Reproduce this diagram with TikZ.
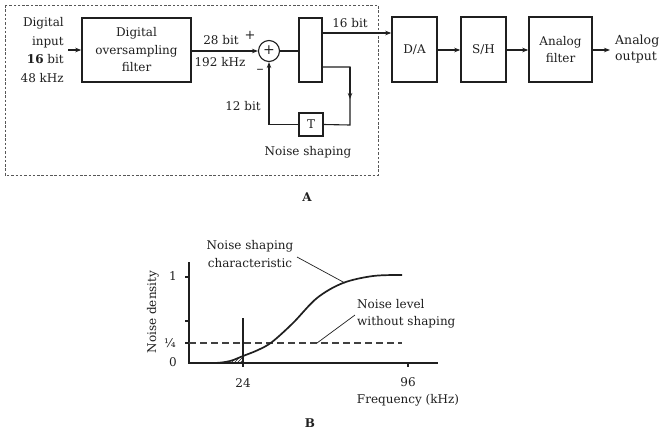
\documentclass[tikz,border=0pt]{standalone}
\usepackage{fontspec}
\setmainfont{DejaVu Serif}
\usetikzlibrary{arrows.meta,patterns}
\definecolor{ink}{gray}{0.12}
\begin{document}
\begin{tikzpicture}[x=1pt,y=-1pt,
  blk/.style={draw=ink,line width=1.5pt,inner sep=0pt,font=\fontsize{12}{17.5}\selectfont,align=center,text=ink},
  lbl/.style={font=\fontsize{12}{17.5}\selectfont,inner sep=0pt,align=center,text=ink},
  conn/.style={draw=ink,line width=1.1pt},
  arr/.style={conn,-{Stealth[length=6pt,width=4.5pt]}},
  thin/.style={draw=ink,line width=0.7pt},
]
\useasboundingbox (0,0) rectangle (668,432);

% ---------- Part A ----------
\draw[draw=ink!75,line width=1pt,dash pattern=on 2.5pt off 1.8pt] (5,5) rectangle (378,175);

\node[lbl,align=right,anchor=east,font=\fontsize{12}{18.5}\selectfont] (in) at (64,50) {Digital\\input\\\textbf{16} bit\\48 kHz};
\node[blk,minimum width=109pt,minimum height=64pt] (dof) at (136.5,50) {Digital\\oversampling\\filter};
\node[draw=ink,line width=1.1pt,circle,minimum size=21pt,inner sep=0pt] (sum) at (269,51) {};
\node[lbl,font=\fontsize{14}{14}\selectfont] (plus) at (269,50.5) {+};
\node[blk,minimum width=23pt,minimum height=64pt] (q) at (310.5,50) {};
\node[blk,minimum width=24pt,minimum height=23pt] (T) at (311,124.5) {T};
\node[blk,minimum width=45pt,minimum height=65pt] (da) at (414.5,49.5) {D/A};
\node[blk,minimum width=45pt,minimum height=65pt] (sh) at (483.5,49.5) {S/H};
\node[blk,minimum width=63pt,minimum height=65pt] (af) at (560.5,49.5) {Analog\\filter};
\node[lbl,align=left,anchor=west,font=\fontsize{12.5}{16}\selectfont] (out) at (615,49) {Analog\\output};

\node[lbl] (l28) at (221,40) {28 bit};
\node[lbl] (l192) at (220,62) {192 kHz};
\node[lbl,font=\fontsize{13}{13}\selectfont] (lp) at (250,35) {+};
\node[lbl,font=\fontsize{14}{14}\selectfont] (lm) at (260,71) {\textendash};
\node[lbl] (l16) at (350,23) {16 bit};
\node[lbl] (l12) at (243,106) {12 bit};
\node[lbl] (lns) at (308,152) {Noise shaping};
\node[lbl,font=\bfseries\fontsize{12}{12}\selectfont] (lA) at (307,197) {A};

\coordinate (inx) at (68,50);
\coordinate (outx) at (610,50);
\coordinate (k0) at (350,67);
\coordinate (km) at (350,99);
\coordinate (k1) at (350,125);
\coordinate (hi) at (322,33);

\draw[arr] (inx) -- (dof.west);
\draw[arr] (dof.east |- sum) -- (sum.west);
\draw[conn] (sum.east) -- (q.west |- sum);
\draw[arr] (hi) -- (da.west |- hi);
\draw[conn] (q.east |- k0) -- (k0) -- (k1) -- (T.east);
\draw[arr] (k0) -- (km);
\draw[arr] (T.west) -| (sum.south);
\draw[arr] (da.east |- outx) -- (sh.west |- outx);
\draw[arr] (sh.east |- outx) -- (af.west |- outx);
\draw[arr] (af.east |- outx) -- (outx);

% ---------- Part B ----------
\draw[conn] (189,262) -- (189,363) -- (438,363);
\draw[conn] (185,277) -- (189,277);
\draw[conn] (185,321) -- (189,321);
\draw[conn] (185,343) -- (189,343);
\draw[conn] (408,363) -- (408,367);
\draw[conn] (243,318) -- (243,367);

\draw[draw=ink!85,line width=1.1pt,dash pattern=on 7pt off 4pt] (189,343) -- (402,343);

\begin{scope}
\clip (218,345) rectangle (243,363);
\fill[pattern=north east lines,pattern color=ink] plot[smooth,tension=0.55] coordinates {(189,363) (215,363) (230,361) (243,356) (258,350) (272,342) (293,323) (317,298) (343,283) (373,276) (402,275)} -- (402,363) -- cycle;
\end{scope}
\draw[draw=ink,line width=1.7pt] plot[smooth,tension=0.55] coordinates {(189,363) (215,363) (230,361) (243,356) (258,350) (272,342) (293,323) (317,298) (343,283) (373,276) (402,275)};

\node[lbl] (y1) at (173,276) {1};
\node[lbl] (yq) at (170,343) {¼};
\node[lbl] (y0) at (173,362) {0};
\node[lbl,rotate=90] (yl) at (153,312) {Noise density};
\node[lbl] (x24) at (243,383) {24};
\node[lbl] (x96) at (408,382) {96};
\node[lbl] (xl) at (408,400) {Frequency (kHz)};
\node[lbl,font=\bfseries\fontsize{12}{12}\selectfont] (lB) at (310,423) {B};

\node[lbl] (nsc) at (250,254) {Noise shaping\\characteristic};
\node[lbl,align=left,anchor=west] (nlw) at (357,314) {Noise level\\without shaping};
\coordinate (a1) at (297,257);
\coordinate (a2) at (345,283);
\coordinate (b1) at (355,315);
\coordinate (b2) at (317,343);
\draw[thin] (a1) -- (a2);
\draw[thin] (b1) -- (b2);
\end{tikzpicture}
\end{document}
